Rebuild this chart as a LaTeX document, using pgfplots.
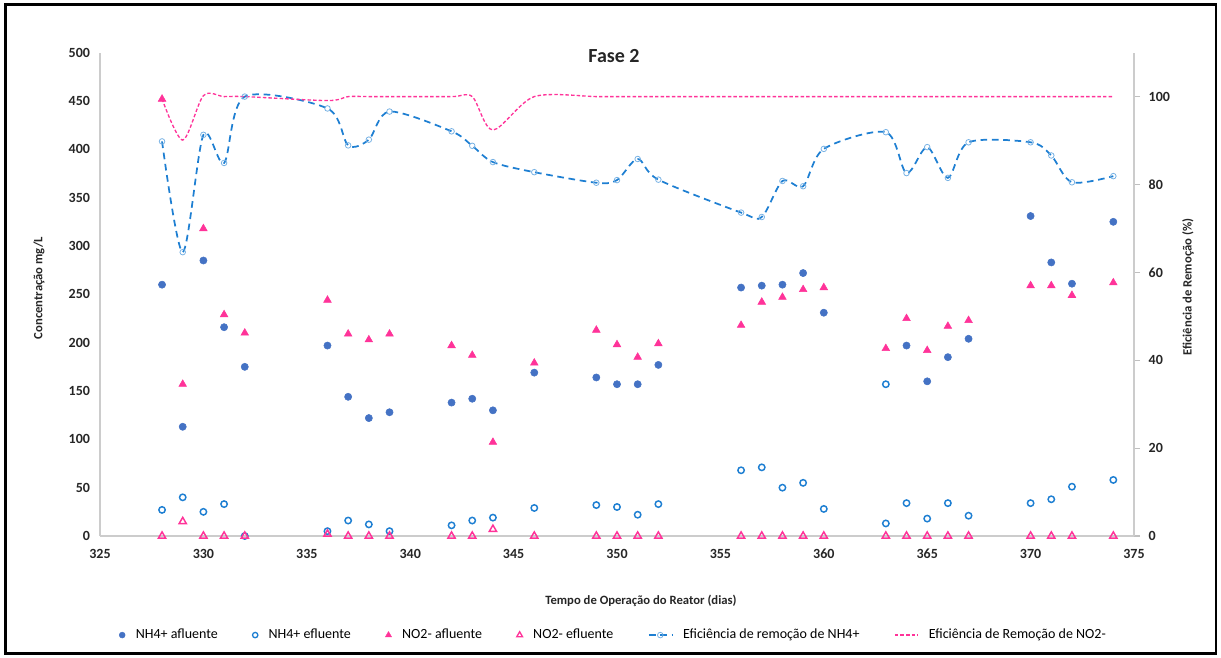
\documentclass[border=0pt]{standalone}
\usepackage{fontspec}
\setmainfont{Carlito}
\usepackage{pgfplots}
\pgfplotsset{compat=1.18}
\definecolor{nhblue}{HTML}{4472C4}
\definecolor{effblue}{HTML}{1E7FD2}
\definecolor{npink}{HTML}{FF3399}
\begin{document}
\begin{tikzpicture}[x=0.75pt,y=0.75pt]
\path[use as bounding box] (0,0) rectangle (1221,657);
\draw[line width=1.8pt, black] (5.5,3.5) rectangle (1216,652.5);
\begin{axis}[
  at={(75pt,90.75pt)}, anchor=south west, scale only axis,
  width=775.5pt, height=362.5pt,
  xmin=325, xmax=375, ymin=0, ymax=500,
  xtick={325,330,...,375}, ytick={0,50,...,500},
  axis x line*=bottom, axis y line*=left,
  axis line style={draw=gray!40, line width=0.9pt, -},
  major tick length=0pt,
  /pgf/number format/assume math mode=true,
  tick label style={font=\bfseries\fontsize{10.5}{12}\selectfont, text=black!85},
  xticklabel style={yshift=-6.5pt},
  yticklabel style={xshift=-4pt},
  clip=false,
]
\addplot[only marks, mark=*, mark size=2.7pt, color=nhblue] coordinates {
(328,260)(329,113)(330,285)(331,216)(332,175)(336,197)(337,144)(338,122)(339,128)
(342,138)(343,142)(344,130)(346,169)(349,164)(350,157)(351,157)(352,177)
(356,257)(357,259)(358,260)(359,272)(360,231)(364,197)(365,160)(366,185)(367,204)
(370,331)(371,283)(372,261)(374,325)};
\addplot[only marks, mark=o, mark size=2.4pt, mark options={draw=effblue, line width=1.1pt, fill=white}] coordinates {
(328,27)(329,40)(330,25)(331,33)(332,0)(336,5)(337,16)(338,12)(339,5)
(342,11)(343,16)(344,19)(346,29)(349,32)(350,30)(351,22)(352,33)
(356,68)(357,71)(358,50)(359,55)(360,28)(363,157)(363,13)(364,34)(365,18)(366,34)(367,21)
(370,34)(371,38)(372,51)(374,58)};
\addplot[only marks, mark=triangle*, mark size=3.3pt, color=npink] coordinates {
(328,452)(329,157)(330,318)(331,229)(332,210)(336,244)(337,209)(338,203)(339,209)
(342,197)(343,187)(344,97)(346,179)(349,213)(350,198)(351,185)(352,199)
(356,218)(357,242)(358,247)(359,255)(360,257)(363,194)(364,225)(365,192)(366,217)(367,223)
(370,259)(371,259)(372,249)(374,262)};
\addplot[only marks, mark=triangle, mark size=3.1pt, mark options={draw=npink, line width=1.1pt, fill=white}] coordinates {
(328,0)(329,15)(330,0)(331,0)(332,0)(336,2)(337,0)(338,0)(339,0)
(342,0)(343,0)(344,7)(346,0)(349,0)(350,0)(351,0)(352,0)
(356,0)(357,0)(358,0)(359,0)(360,0)(363,0)(364,0)(365,0)(366,0)(367,0)
(370,0)(371,0)(372,0)(374,0)};
\end{axis}
\begin{axis}[
  at={(75pt,90.75pt)}, anchor=south west, scale only axis,
  width=775.5pt, height=362.5pt,
  xmin=325, xmax=375, ymin=0, ymax=110,
  ytick={0,20,...,100},
  axis x line=none, axis y line*=right,
  axis line style={draw=gray!40, line width=0.9pt, -},
  tick align=outside, major tick length=4.5pt,
  tick style={draw=gray!50, line width=0.8pt},
  /pgf/number format/assume math mode=true,
  tick label style={font=\bfseries\fontsize{10.5}{12}\selectfont, text=black!85},
  yticklabel style={xshift=3pt},
  legend columns=6,
  legend style={draw=none, fill=none, at={(axis description cs:0.497,-0.205)}, anchor=center,
    font=\fontsize{10.5}{12}\selectfont,
    /tikz/every even column/.append style={column sep=24pt},
    /tikz/every odd column/.append style={column sep=6pt}},
  clip=false,
]
\addlegendimage{only marks, mark=*, mark size=2.2pt, color=nhblue}
\addlegendentry{NH4+ afluente}
\addlegendimage{only marks, mark=o, mark size=2pt, mark options={draw=effblue, line width=1pt, fill=white}}
\addlegendentry{NH4+ efluente}
\addlegendimage{only marks, mark=triangle*, mark size=2.6pt, color=npink}
\addlegendentry{NO2- afluente}
\addlegendimage{only marks, mark=triangle, mark size=2.5pt, mark options={draw=npink, line width=1pt, fill=white}}
\addlegendentry{NO2- efluente}
\addplot[effblue, line width=1.3pt, dash pattern=on 5pt off 3.5pt, smooth, tension=0.5,
  mark=o, mark size=2.1pt, mark options={solid, draw=effblue!60, fill=white, line width=0.6pt}] coordinates {
(328,89.8)(329,64.6)(330,91.3)(331,84.9)(332,100)(336,97.3)(337,88.9)(338,90.2)(339,96.6)
(342,92.1)(343,88.8)(344,85.1)(346,82.8)(349,80.4)(350,81.0)(351,85.8)(352,81.1)
(356,73.6)(357,72.6)(358,80.8)(359,79.6)(360,88.1)(363,91.9)(364,82.6)(365,88.5)(366,81.5)(367,89.6)
(370,89.6)(371,86.6)(372,80.5)(374,81.9)};
\addlegendentry{Eficiência de remoção de NH4+}
\addplot[npink, line width=1pt, dash pattern=on 2.6pt off 1.6pt, smooth, tension=0.5] coordinates {
(328,99.5)(329,90.1)(330,100.2)(331,100)(332,100)(336,99.1)(337,100)(338,100)(339,100)
(342,100)(343,100)(344,92.4)(346,100)(349,100)(350,100)(351,100)(352,100)
(356,100)(357,100)(358,100)(359,100)(360,100)(363,100)(364,100)(365,100)(366,100)(367,100)
(370,100)(371,100)(372,100)(374,100)};
\addlegendentry{Eficiência de Remoção de NO2-}
\end{axis}
\node[font=\bfseries\fontsize{15}{18}\selectfont, text=black!85] at (614,601) {Fase 2};
\node[font=\bfseries\fontsize{9.5}{11}\selectfont, text=black!85] at (641,56) {Tempo de Operação do Reator (dias)};
\node[font=\bfseries\fontsize{9.5}{11}\selectfont, text=black!85, rotate=90] at (39,369) {Concentração mg/L};
\node[font=\bfseries\fontsize{9.5}{11}\selectfont, text=black!85, rotate=90] at (1188,370) {Eficiência de Remoção (\%)};
\end{tikzpicture}
\end{document}
